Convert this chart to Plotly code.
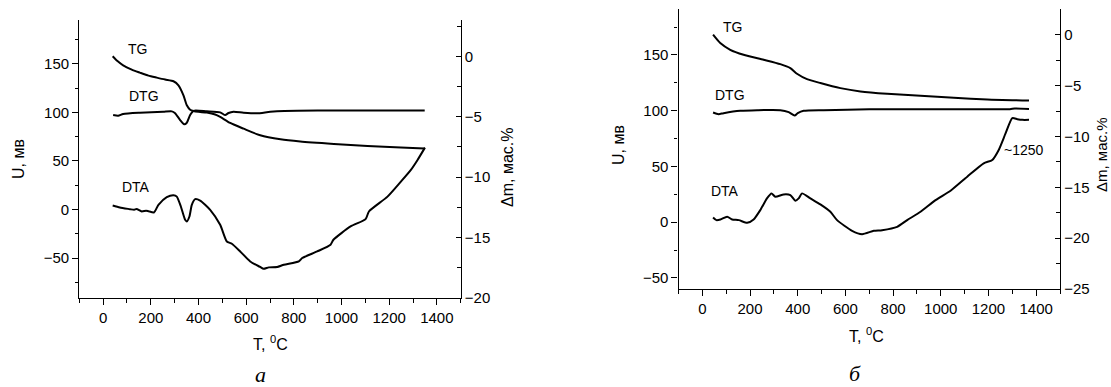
import plotly.graph_objects as go

# ---------------- Panel "а" ----------------
T_a_tg = [40, 60, 84, 120, 154, 190, 225, 260, 295, 316, 337, 351, 365, 379, 400, 435, 470, 491, 533, 589, 659, 744, 827, 968, 1109, 1249, 1348]
TG_a = [0.0, -0.4, -0.75, -1.1, -1.35, -1.6, -1.77, -1.93, -2.07, -2.4, -3.23, -4.06, -4.42, -4.53, -4.6, -4.66, -4.82, -5.02, -5.52, -5.99, -6.54, -6.87, -7.05, -7.25, -7.42, -7.55, -7.63]

T_a_dtg = [42, 63, 84, 154, 252, 288, 302, 323, 340, 351, 365, 379, 435, 491, 512, 526, 547, 589, 645, 701, 760, 900, 1100, 1349]
DTG_a = [97.2, 96.5, 98.3, 99.6, 100.6, 101.0, 99.0, 92.1, 87.7, 89.3, 97.2, 101.6, 101.0, 100.0, 97.2, 99.3, 100.6, 99.6, 99.0, 100.6, 101.5, 102.0, 101.8, 101.8]

T_a_dta = [40, 70, 112, 130, 140, 162, 180, 190, 213, 232, 267, 295, 309, 326, 344, 351, 362, 372, 386, 407, 449, 491, 519, 540, 575, 617, 659, 673, 695, 730, 758, 821, 835, 898, 954, 966, 1038, 1101, 1115, 1193, 1249, 1291, 1319, 1350]
DTA_a = [4.1, 2.1, 0.4, -0.3, 0.6, -2.0, -1.2, -1.7, -3.0, 4.8, 12.7, 14.8, 13.3, 3.1, -10.6, -12.3, -7.2, 4.8, 10.7, 9.2, -0.3, -15.7, -32.9, -35.2, -43.1, -53.4, -59.1, -61.0, -59.5, -59.1, -56.8, -53.4, -49.9, -43.1, -36.2, -31.1, -17.4, -9.9, -2.0, 13.3, 28.7, 40.8, 51.0, 63.7]

# ---------------- Panel "б" ----------------
T_b_tg = [45, 75, 117, 173, 257, 327, 369, 397, 439, 495, 579, 663, 775, 915, 1055, 1195, 1370]
TG_b = [0.0, -0.82, -1.48, -1.97, -2.46, -2.89, -3.28, -3.84, -4.37, -4.75, -5.25, -5.58, -5.81, -6.0, -6.2, -6.37, -6.47]

T_b_dtg = [45, 68, 89, 159, 230, 327, 362, 387, 400, 425, 509, 700, 900, 1100, 1290, 1310, 1370]
DTG_b = [98.4, 96.9, 97.8, 99.9, 100.5, 100.5, 98.7, 95.7, 97.8, 99.9, 100.5, 101.2, 101.4, 101.4, 101.4, 102.0, 101.6]

T_b_dta = [45, 59, 76, 104, 125, 153, 188, 215, 243, 271, 290, 306, 341, 369, 390, 404, 418, 453, 495, 537, 565, 628, 670, 719, 754, 817, 859, 915, 978, 1041, 1111, 1180, 1216, 1243, 1272, 1300, 1321, 1342, 1370]
DTA_b = [4.2, 1.8, 2.4, 4.8, 2.4, 1.8, -0.6, 2.4, 10.8, 21.3, 25.8, 22.8, 24.9, 24.3, 19.2, 21.3, 25.8, 21.3, 15.9, 9.3, 1.8, -7.8, -10.8, -7.8, -7.2, -4.2, 1.8, 9.3, 19.8, 28.2, 40.8, 52.8, 55.8, 64.8, 79.8, 93.3, 92.4, 91.8, 91.8]

x_ticks = [0, 200, 400, 600, 800, 1000, 1200, 1400]

W, H = 1111, 387
FONT = "Liberation Sans, Arial, sans-serif"
LINE = dict(color="black", width=2, shape="spline", smoothing=0.6)

fig = go.Figure()
fig.add_trace(go.Scatter(x=T_a_tg, y=TG_a, xaxis="x", yaxis="y2", mode="lines", line=LINE, name="TG"))
fig.add_trace(go.Scatter(x=T_a_dtg, y=DTG_a, xaxis="x", yaxis="y", mode="lines", line=LINE, name="DTG"))
fig.add_trace(go.Scatter(x=T_a_dta, y=DTA_a, xaxis="x", yaxis="y", mode="lines", line=LINE, name="DTA"))
fig.add_trace(go.Scatter(x=T_b_tg, y=TG_b, xaxis="x2", yaxis="y4", mode="lines", line=LINE, name="TG"))
fig.add_trace(go.Scatter(x=T_b_dtg, y=DTG_b, xaxis="x2", yaxis="y3", mode="lines", line=LINE, name="DTG"))
fig.add_trace(go.Scatter(x=T_b_dta, y=DTA_b, xaxis="x2", yaxis="y3", mode="lines", line=LINE, name="DTA"))


def ax(**kw):
    d = dict(showline=True, linecolor="black", linewidth=1.3, ticks="outside", ticklen=6,
             tickwidth=1.2, tickcolor="black", showgrid=False, zeroline=False, automargin=False,
             tickfont=dict(family=FONT, size=15, color="black"), fixedrange=True)
    d.update(kw)
    return d


def minor(dt, where="outside"):
    return dict(ticks=where, ticklen=3.5, tickwidth=1.1, tickcolor="black", dtick=dt, showgrid=False)


xa = [79.3 / W, 460.7 / W]
xb = [678.5 / W, 1060 / W]
ya = [1 - 298 / H, 1 - 20 / H]
yb = [1 - 289 / H, 1 - 9.3 / H]

fig.update_layout(
    width=W, height=H, margin=dict(l=0, r=0, t=0, b=0),
    paper_bgcolor="white", plot_bgcolor="white", showlegend=False,
    font=dict(family=FONT, color="black"),
    xaxis=ax(domain=xa, anchor="y", range=[-100, 1500], tickvals=x_ticks, minor=minor(100)),
    yaxis=ax(domain=ya, anchor="x", range=[-91, 195], dtick=50, tick0=0, minor=minor(25)),
    yaxis2=ax(anchor="x", overlaying="y", side="right", range=[-20, 3], dtick=5, tick0=0,
              ticks="inside", ticklen=5, minor=minor(2.5, "inside")),
    xaxis2=ax(domain=xb, anchor="y3", range=[-100, 1500], tickvals=x_ticks, minor=minor(100)),
    yaxis3=ax(domain=yb, anchor="x2", range=[-60, 191], dtick=50, tick0=0, minor=minor(25)),
    yaxis4=ax(anchor="x2", overlaying="y3", side="right", range=[-25, 2.5], dtick=5, tick0=0,
              ticks="inside", ticklen=5, minor=minor(2.5, "inside")),
)

ann = []
C = dict(showarrow=False, xanchor="center", yanchor="middle")
tfont = dict(family=FONT, size=16, color="black")
# axis titles
ann.append(dict(text="T, <sup>0</sup>C", x=270 / W, y=1 - 343 / H, xref="paper", yref="paper", font=tfont, **C))
ann.append(dict(text="T, <sup>0</sup>C", x=866.7 / W, y=1 - 335 / H, xref="paper", yref="paper", font=tfont, **C))
ann.append(dict(text="U, мв", x=18 / W, y=1 - 159 / H, xref="paper", yref="paper", textangle=-90, font=tfont, **C))
ann.append(dict(text="U, мв", x=618 / W, y=1 - 145 / H, xref="paper", yref="paper", textangle=-90, font=tfont, **C))
ann.append(dict(text="Δm, мас.%", x=507 / W, y=1 - 168 / H, xref="paper", yref="paper", textangle=-90, font=tfont, **C))
ann.append(dict(text="Δm, мас.%", x=1101 / W, y=1 - 155 / H, xref="paper", yref="paper", textangle=-90,
                font=dict(family=FONT, size=15, color="black"), **C))
# panel letters
pfont = dict(family="Liberation Serif, Times New Roman, serif", size=22, color="black")
ann.append(dict(text="<i>а</i>", x=260 / W, y=1 - 374 / H, xref="paper", yref="paper", font=pfont, **C))
ann.append(dict(text="<i>б</i>", x=855 / W, y=1 - 373 / H, xref="paper", yref="paper", font=pfont, **C))
# curve labels
lfont = dict(family=FONT, size=14, color="black")
ann.append(dict(text="TG", x=145, y=165, xref="x", yref="y", font=lfont, **C))
ann.append(dict(text="DTG", x=171, y=117, xref="x", yref="y", font=lfont, **C))
ann.append(dict(text="DTA", x=138, y=23.7, xref="x", yref="y", font=lfont, **C))
ann.append(dict(text="TG", x=125, y=175, xref="x2", yref="y3", font=lfont, **C))
ann.append(dict(text="DTG", x=117, y=114, xref="x2", yref="y3", font=lfont, **C))
ann.append(dict(text="DTA", x=97, y=28.2, xref="x2", yref="y3", font=lfont, **C))
ann.append(dict(text="~1250", x=1347, y=64.8, xref="x2", yref="y3", font=lfont, **C))
fig.update_layout(annotations=ann)

fig.write_html(
    "out.html",
    config={"displayModeBar": False},
    post_script="document.body.style.margin='0px'; document.body.style.overflow='hidden';",
)
